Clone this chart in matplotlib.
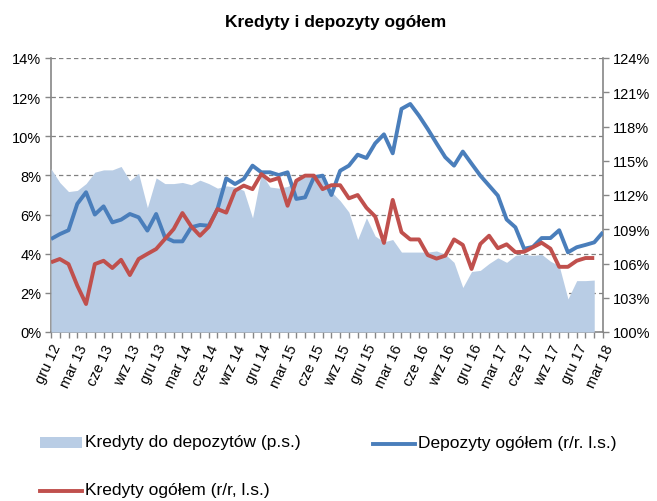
import matplotlib
matplotlib.use("Agg")
import matplotlib.pyplot as plt
from matplotlib import font_manager
from matplotlib.patches import Rectangle
from matplotlib.lines import Line2D
import numpy as np

names = {f.name for f in font_manager.fontManager.ttflist}
FAM = [n for n in ["Liberation Sans Narrow", "Liberation Sans", "DejaVu Sans"] if n in names]
plt.rcParams['font.family'] = FAM

# ---- data ----
month_abbr = ["sty", "lut", "mar", "kwi", "maj", "cze", "lip", "sie", "wrz", "paź", "lis", "gru"]
start_year, start_month = 2012, 12   # gru 12
n_months = 64                        # gru 12 .. mar 18

deposits = [4.75, 5.0, 5.2, 6.55, 7.14, 6.0, 6.42, 5.6, 5.74, 6.03, 5.86, 5.18, 6.03, 4.84, 4.63, 4.63,
            5.35, 5.47, 5.43, 6.28, 7.85, 7.56, 7.82, 8.5, 8.16, 8.16, 8.02, 8.16, 6.8, 6.88, 7.9, 7.99,
            7.0, 8.24, 8.5, 9.06, 8.89, 9.64, 10.1, 9.13, 11.4, 11.65, 11.05, 10.37, 9.64, 8.93, 8.5, 9.22,
            8.6, 7.99, 7.48, 6.97, 5.75, 5.35, 4.25, 4.35, 4.8, 4.8, 5.2, 4.07, 4.33, 4.45, 4.58, 5.1]

credits = [3.56, 3.73, 3.47, 2.37, 1.43, 3.47, 3.64, 3.27, 3.69, 2.91, 3.73, 3.99, 4.24, 4.75, 5.26, 6.08,
           5.4, 4.92, 5.37, 6.28, 6.1, 7.22, 7.48, 7.3, 8.07, 7.73, 7.87, 6.45, 7.73, 7.99, 7.99, 7.3,
           7.5, 7.5, 6.83, 7.0, 6.35, 5.9, 4.55, 6.75, 5.1, 4.73, 4.73, 3.93, 3.75, 3.9, 4.73, 4.45,
           3.22, 4.5, 4.92, 4.28, 4.48, 4.08, 4.1, 4.33, 4.56, 4.26, 3.33, 3.33, 3.64, 3.78, 3.78]

loan_to_deposit = [114.3, 113.1, 112.3, 112.4, 113.0, 114.0, 114.2, 114.2, 114.5, 113.25, 113.9, 110.9,
                   113.5, 113.0, 113.0, 113.1, 112.9, 113.3, 113.0, 112.6, 112.8, 112.7, 112.4, 110.0,
                   113.9, 112.7, 112.6, 112.75, 113.2, 113.6, 113.7, 113.5, 112.3, 111.5, 110.5, 108.1,
                   110.0, 108.4, 107.9, 108.1, 107.0, 107.0, 107.0, 107.0, 107.1, 106.8, 106.1, 103.9,
                   105.3, 105.4, 106.0, 106.5, 106.1, 106.7, 106.8, 106.7, 106.8, 106.2, 105.8, 102.9,
                   104.5, 104.5, 104.55]

left_ticks = [0, 2, 4, 6, 8, 10, 12, 14]
right_ticks = [100, 103, 106, 109, 112, 115, 118, 121, 124]

title = "Kredyty i depozyty ogółem"
lbl_area = "Kredyty do depozytów (p.s.)"
lbl_dep = "Depozyty ogółem (r/r. l.s.)"
lbl_cred = "Kredyty ogółem (r/r, l.s.)"

xlabels = []
for i in range(n_months):
    m = (start_month - 1 + i) % 12
    y = start_year + (start_month - 1 + i) // 12
    xlabels.append(f"{month_abbr[m]} {y % 100:02d}")

C_AREA = "#b9cde5"
C_BLUE = "#4a7ebb"
C_RED = "#c0504d"
C_AX = "#868686"

W, H = 657, 502
fig = plt.figure(figsize=(W / 100, H / 100), dpi=100)
ax = fig.add_axes([51/W, 1-333/H, (603-51)/W, (333-59)/H])
ax2 = ax.twinx()
ax3 = ax.twinx()

x = np.arange(n_months)

ax.set_ylim(0, 14)
ax.set_yticks(left_ticks)
ax.set_yticklabels([f"{t}%" for t in left_ticks])
ax.grid(axis='y', color='#808080', linestyle=(0, (3.5, 2.5)), linewidth=0.9)
ax.set_xlim(0, n_months - 1)

xa = x[:len(loan_to_deposit)]
ax2.fill_between(xa, 100, loan_to_deposit, color=C_AREA, linewidth=0)
ax2.set_ylim(100, 124)
ax2.set_yticks(right_ticks)
ax2.set_yticklabels([f"{t}%" for t in right_ticks])

ax3.plot(x[:len(deposits)], deposits, color=C_BLUE, lw=2.8, solid_joinstyle='round', solid_capstyle='butt')
ax3.plot(x[:len(credits)], credits, color=C_RED, lw=2.8, solid_joinstyle='round', solid_capstyle='butt')
ax3.set_ylim(0, 14)
ax3.set_yticks([])
ax3.set_xlim(0, n_months - 1)

for a in (ax, ax2, ax3):
    for s in a.spines.values():
        s.set_visible(False)

ax.spines['left'].set_visible(True)
ax.spines['left'].set_color(C_AX)
ax.spines['bottom'].set_visible(True)
ax.spines['bottom'].set_color(C_AX)
ax2.spines['right'].set_visible(True)
ax2.spines['right'].set_color(C_AX)
for a in (ax, ax2):
    for s in a.spines.values():
        s.set_linewidth(1.2)

ax.set_xticks(x[::3])
ax.set_xticklabels(xlabels[::3], rotation=65, ha='right', va='top', rotation_mode='anchor', fontsize=10.5)
ax.set_xticks(x, minor=True)
ax.tick_params(axis='x', which='both', direction='out', length=4, color=C_AX, width=1, pad=3)
ax.tick_params(axis='y', direction='out', length=4, color=C_AX, width=1, labelsize=10.5, pad=3)
ax2.tick_params(axis='y', direction='out', length=4, color=C_AX, width=1, labelsize=10.5, pad=3)

fig.text(336/W, 1-22/H, title, ha='center', va='center', fontsize=12.5, fontweight='bold')

# legend (manual layout in figure pixels)
def fx(px):
    return px / W

def fy(py):
    return 1 - py / H

LFS = 12.5
fig.add_artist(Rectangle((fx(40), fy(449)), fx(82) - fx(40), (449 - 438) / H,
                         transform=fig.transFigure, facecolor=C_AREA, edgecolor='none'))
fig.text(fx(85), fy(443), lbl_area, ha='left', va='center', fontsize=LFS)
fig.add_artist(Line2D([fx(373), fx(415)], [fy(445), fy(445)], transform=fig.transFigure,
                      color=C_BLUE, lw=2.8))
fig.text(fx(418), fy(444), lbl_dep, ha='left', va='center', fontsize=LFS)
fig.add_artist(Line2D([fx(40), fx(82)], [fy(492), fy(492)], transform=fig.transFigure,
                      color=C_RED, lw=2.8))
fig.text(fx(85), fy(491), lbl_cred, ha='left', va='center', fontsize=LFS)

fig.savefig("out.png", dpi=100)
